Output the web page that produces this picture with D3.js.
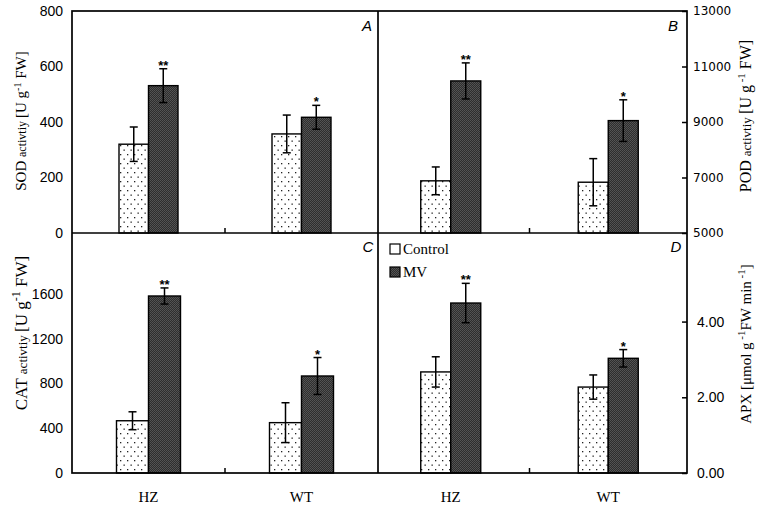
<!DOCTYPE html>
<html><head><meta charset="utf-8">
<script src="https://cdn.jsdelivr.net/npm/d3@7"></script>
<style>body{margin:0;background:#fff}svg{display:block}</style>
</head><body>
<script>
// ---- data ----
const categories = ["HZ", "WT"];
const seriesNames = ["Control", "MV"];
const significance = ["**", "*"];

const sodControl = [320, 357], sodControlErr = [62, 68];
const sodMV = [531, 417],      sodMVErr = [61, 43];

const podControl = [6880, 6830], podControlErr = [500, 850];
const podMV = [10480, 9050],     podMVErr = [650, 750];

const catControl = [467, 450], catControlErr = [80, 178];
const catMV = [1582, 867],     catMVErr = [72, 165];

const apxControl = [2.67, 2.27], apxControlErr = [0.40, 0.32];
const apxMV = [4.49, 3.03],      apxMVErr = [0.52, 0.23];

const sodTicks = [0, 200, 400, 600, 800];
const podTicks = [5000, 7000, 9000, 11000, 13000];
const catTicks = [0, 400, 800, 1200, 1600];
const apxTicks = [0, 2, 4];

// ---- layout ----
const W = 759, H = 508;
const L = 72, M = 378, R = 687, T = 11, MID = 233, B = 473;

const svg = d3.select("body").append("svg").attr("width", W).attr("height", H);
const defs = svg.append("defs");
const dots = defs.append("pattern").attr("id", "dots").attr("patternUnits", "userSpaceOnUse")
  .attr("width", 7).attr("height", 9);
dots.append("rect").attr("width", 7).attr("height", 9).attr("fill", "#fff");
dots.append("rect").attr("x", 1).attr("y", 1).attr("width", 1.3).attr("height", 1.3).attr("fill", "#222");
dots.append("rect").attr("x", 4.5).attr("y", 5.5).attr("width", 1.3).attr("height", 1.3).attr("fill", "#222");
const dark = defs.append("pattern").attr("id", "dark").attr("patternUnits", "userSpaceOnUse")
  .attr("width", 2).attr("height", 2);
dark.append("rect").attr("width", 2).attr("height", 2).attr("fill", "#2e2e2e");
dark.append("rect").attr("width", 1).attr("height", 1).attr("fill", "#555");
dark.append("rect").attr("x", 1).attr("y", 1).attr("width", 1).attr("height", 1).attr("fill", "#505050");

function panel(opts) {
  const { x0, x1, y0, y1, domain, ctrl, ctrlErr, mv, mvErr } = opts;
  const x = d3.scaleBand().domain(categories).range([x0, x1]);
  const y = d3.scaleLinear().domain(domain).range([y1, y0]);
  const sub = d3.scaleBand().domain(seriesNames).range([0, opts.pairW]);
  const g = svg.append("g");
  const rows = categories.map((c, i) => ({
    c, vals: [
      { s: "Control", v: ctrl[i], e: ctrlErr[i] },
      { s: "MV", v: mv[i], e: mvErr[i] }
    ], sig: significance[i]
  }));
  rows.forEach(r => {
    const cx = x(r.c) + x.bandwidth() / 2 - opts.pairW / 2;
    r.vals.forEach(d => {
      const bx = cx + sub(d.s);
      g.append("rect").attr("x", bx).attr("y", y(d.v))
        .attr("width", sub.bandwidth()).attr("height", y(domain[0]) - y(d.v))
        .attr("fill", d.s === "Control" ? "url(#dots)" : "url(#dark)")
        .attr("stroke", "#000").attr("stroke-width", 1.4);
      const mx = bx + sub.bandwidth() / 2;
      g.append("line").attr("x1", mx).attr("x2", mx).attr("y1", y(d.v - d.e)).attr("y2", y(d.v + d.e))
        .attr("stroke", "#000").attr("stroke-width", 1.5);
      [d.v - d.e, d.v + d.e].forEach(v => g.append("line").attr("x1", mx - 4).attr("x2", mx + 4)
        .attr("y1", y(v)).attr("y2", y(v)).attr("stroke", "#000").attr("stroke-width", 1.5));
      if (d.s === "MV") {
        g.append("text").attr("x", mx).attr("y", y(d.v + d.e) + 1)
          .attr("text-anchor", "middle").attr("font-family", "Liberation Sans, Arial")
          .attr("font-size", 13).attr("font-weight", "bold").text(r.sig);
      }
    });
  });
  // middle tick at bottom
  const midX = (x(categories[0]) + x.bandwidth() + x(categories[1])) / 2;
  g.append("line").attr("x1", midX).attr("x2", midX).attr("y1", y1).attr("y2", y1 - 5)
    .attr("stroke", "#000").attr("stroke-width", 1.5);
  // axis
  if (opts.side === "left") {
    const ax = d3.axisLeft(y).tickValues(opts.ticks).tickSize(0).tickPadding(9)
      .tickFormat(opts.fmt || d3.format("d"));
    const a = svg.append("g").attr("transform", `translate(${x0 === L ? L : x0},0)`).call(ax);
    a.select(".domain").remove();
    a.selectAll("text").attr("font-family", "Liberation Sans, Arial").attr("font-size", 14).attr("fill", "#000");
  } else {
    const ax = d3.axisRight(y).tickValues(opts.ticks).tickSizeInner(-5).tickSizeOuter(0)
      .tickPadding(opts.pad).tickFormat(opts.fmt || d3.format("d"));
    const a = svg.append("g").attr("transform", `translate(${R},0)`).call(ax);
    a.select(".domain").remove();
    a.selectAll("line").attr("stroke", "#000").attr("stroke-width", 1.5);
    a.selectAll("text").attr("font-family", opts.tickFont).attr("font-size", opts.tickSize).attr("fill", "#000");
  }
  return { x, y };
}

const pA = panel({ x0: L, x1: M, y0: T, y1: MID, domain: [0, 800], ctrl: sodControl, ctrlErr: sodControlErr,
  mv: sodMV, mvErr: sodMVErr, pairW: 59, side: "left", ticks: sodTicks });
const pB = panel({ x0: 372, x1: R, y0: T, y1: MID, domain: [5000, 13000], ctrl: podControl, ctrlErr: podControlErr,
  mv: podMV, mvErr: podMVErr, pairW: 60, side: "right", ticks: podTicks, pad: 6,
  tickFont: "DejaVu Sans, Verdana", tickSize: 12 });
const pC = panel({ x0: L, x1: M, y0: MID, y1: B, domain: [0, 2145], ctrl: catControl, ctrlErr: catControlErr,
  mv: catMV, mvErr: catMVErr, pairW: 64, side: "left", ticks: catTicks });
const pD = panel({ x0: 372, x1: R, y0: MID, y1: B, domain: [0, 6.34], ctrl: apxControl, ctrlErr: apxControlErr,
  mv: apxMV, mvErr: apxMVErr, pairW: 60, side: "right", ticks: apxTicks, pad: 10, fmt: d3.format(".2f"),
  tickFont: "Liberation Sans, Arial", tickSize: 14 });

// frame
const fr = svg.append("g").attr("stroke", "#000").attr("stroke-width", 1.7).attr("fill", "none");
fr.append("rect").attr("x", L).attr("y", T).attr("width", R - L).attr("height", B - T);
fr.append("line").attr("x1", M).attr("x2", M).attr("y1", T).attr("y2", B);
fr.append("line").attr("x1", L).attr("x2", R).attr("y1", MID).attr("y2", MID);

// panel letters
[["A", 367, 31], ["B", 673, 31], ["C", 368, 252], ["D", 676, 252]].forEach(([t, x, y]) =>
  svg.append("text").attr("x", x).attr("y", y).attr("text-anchor", "middle")
    .attr("font-family", "Liberation Sans, Arial").attr("font-style", "italic").attr("font-size", 15).text(t));

// category labels
[[pC, "C"], [pD, "D"]].forEach(([p]) => categories.forEach(c =>
  svg.append("text").attr("x", p.x(c) + p.x.bandwidth() / 2).attr("y", 502).attr("text-anchor", "middle")
    .attr("font-family", "Liberation Serif, Times New Roman").attr("font-size", 15).text(c)));

// axis titles
function vtitle(x, y, parts) {
  const t = svg.append("text").attr("transform", `translate(${x},${y}) rotate(-90)`)
    .attr("text-anchor", "middle").attr("font-family", "Liberation Serif, Times New Roman");
  parts.forEach(p => {
    const s = t.append("tspan").attr("font-size", p.size).text(p.t);
    if (p.sup) s.attr("baseline-shift", "super").attr("font-size", p.size);
  });
}
vtitle(26, 121, [{ t: "SOD ", size: 15 }, { t: "activtiy ", size: 12 }, { t: "[U g", size: 15 },
  { t: "-1", size: 10, sup: true }, { t: " FW]", size: 15 }]);
vtitle(27, 333, [{ t: "CAT ", size: 17 }, { t: "activtiy ", size: 13 }, { t: "[U g", size: 17 },
  { t: "-1", size: 12, sup: true }, { t: " FW]", size: 17 }]);
vtitle(751, 116, [{ t: "POD ", size: 16 }, { t: "activtiy ", size: 13 }, { t: "[U g", size: 16 },
  { t: " -1", size: 11, sup: true }, { t: " FW]", size: 16 }]);
vtitle(751, 344, [{ t: "APX [μmol g", size: 15 }, { t: " -1", size: 11, sup: true }, { t: "FW min", size: 15 },
  { t: " -1", size: 11, sup: true }, { t: "]", size: 15 }]);

// legend
const lg = svg.append("g").attr("font-family", "Liberation Serif, Times New Roman").attr("font-size", 15);
[["Control", "#fff", 249], ["MV", "url(#dark)", 272]].forEach(([n, f, y]) => {
  lg.append("rect").attr("x", 390).attr("y", y - 5).attr("width", 10).attr("height", 10)
    .attr("fill", f).attr("stroke", "#000").attr("stroke-width", 1.2);
  lg.append("text").attr("x", 403).attr("y", y + 5).text(n);
});
</script>
</body></html>
